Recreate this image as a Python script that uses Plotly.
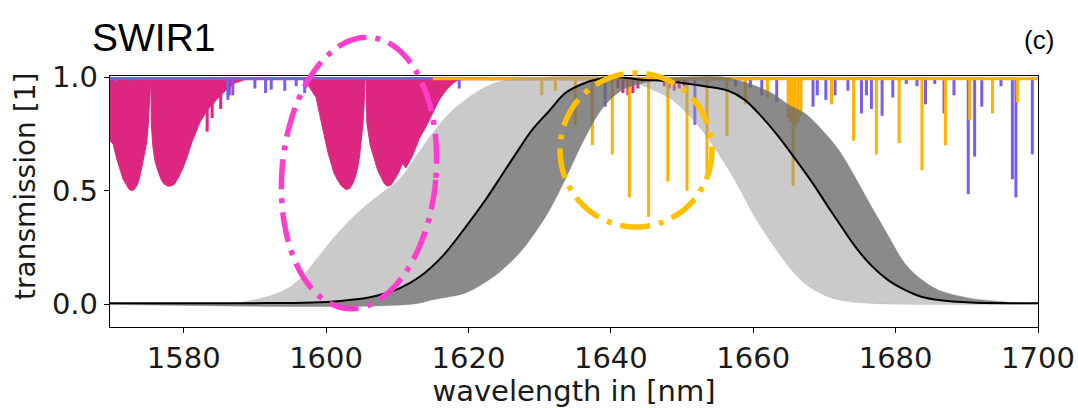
import math
import plotly.graph_objects as go

# ---------------- data ----------------
X_MIN, X_MAX = 1569.65, 1700.0
x_ticks = [1580, 1600, 1620, 1640, 1660, 1680, 1700]
y_ticks = [0.0, 0.5, 1.0]
y_ticktext = ["0.0", "0.5", "1.0"]

# CO2 (magenta) absorption envelope
co2_wl = [1569.65, 1570.1, 1570.6, 1571.05, 1571.5, 1571.99, 1572.35, 1572.69, 1573.05, 1573.39,
          1573.75, 1574.09, 1574.45, 1574.79, 1575.0, 1575.16, 1575.3,
          1575.4, 1575.45, 1575.65, 1575.94, 1576.4, 1576.88, 1577.3, 1577.8, 1578.3, 1578.74,
          1579.3, 1579.9, 1580.5, 1581.1, 1581.7, 1582.26, 1583.2,
          1584.6, 1586.0, 1587.3, 1588.8, 1597.0, 1597.67, 1598.6, 1599.07, 1599.77, 1600.25, 1600.71,
          1601.15, 1601.63, 1602.2, 1602.81, 1603.3, 1603.73, 1604.1, 1604.43, 1604.7, 1604.9,
          1605.2, 1605.37, 1605.5, 1605.65, 1605.72, 1606.2, 1606.78, 1607.25, 1607.72,
          1608.2, 1608.65, 1609.1, 1609.58, 1610.2, 1610.74, 1611.2, 1612.1, 1613.1, 1614.0,
          1614.95, 1615.9, 1616.8, 1617.7, 1618.4, 1620.0, 1660.0]
co2_tr = [0.72, 0.705, 0.64, 0.59, 0.55, 0.524, 0.505, 0.50, 0.505, 0.52,
          0.55, 0.60, 0.65, 0.71, 0.78, 0.88, 1.0,
          1.0, 0.80, 0.70, 0.634, 0.585, 0.546, 0.528, 0.52, 0.522, 0.53,
          0.56, 0.60, 0.65, 0.71, 0.76, 0.80, 0.85,
          0.90, 0.945, 0.975, 0.992, 0.992, 0.955, 0.91, 0.84, 0.73, 0.67, 0.62,
          0.575, 0.546, 0.52, 0.505, 0.51, 0.53, 0.56, 0.60, 0.65, 0.71,
          0.80, 0.90, 1.0, 1.0, 0.80, 0.70, 0.634, 0.59, 0.56,
          0.53, 0.52, 0.525, 0.546, 0.58, 0.62, 0.60, 0.65, 0.73, 0.78,
          0.84, 0.90, 0.94, 0.97, 0.985, 0.993, 0.993]
# extra CO2 individual lines
co2_line_wl = [1583.3, 1584.0, 1585.2, 1586.4, 1641.0, 1641.7, 1642.4, 1643.1, 1643.8,
               1647.5, 1648.2, 1648.9, 1649.6, 1650.3]
co2_line_tr = [0.76, 0.82, 0.86, 0.92, 0.95, 0.93, 0.92, 0.93, 0.95,
               0.96, 0.95, 0.94, 0.95, 0.96]

# H2O (purple) lines
h2o_wl = [1570.5, 1572.3, 1586.2, 1586.9, 1590.0, 1591.5, 1592.3, 1594.2, 1595.8, 1597.0,
          1618.7, 1639.2, 1651.8, 1657.5, 1659.6, 1661.2, 1663.3, 1668.4, 1669.0, 1670.2,
          1671.5, 1673.3, 1675.2, 1675.9, 1676.6, 1678.1, 1679.6, 1681.5, 1683.0, 1684.2,
          1685.5, 1686.8, 1688.2, 1690.2, 1691.1, 1692.1, 1694.8, 1696.4, 1696.9, 1699.2]
h2o_tr = [0.98, 0.985, 0.90, 0.92, 0.95, 0.93, 0.945, 0.94, 0.96, 0.93,
          0.95, 0.87, 0.79, 0.96, 0.955, 0.92, 0.89, 0.87, 0.92, 0.90,
          0.92, 0.94, 0.84, 0.92, 0.86, 0.83, 0.91, 0.97, 0.96, 0.88,
          0.97, 0.84, 0.92, 0.485, 0.65, 0.87, 0.96, 0.55, 0.47, 0.66]

# CH4 (gold) lines
ch4_wl = [1623.2, 1630.3, 1632.2, 1635.0, 1637.4, 1640.2, 1642.6, 1645.3, 1648.0, 1650.7,
          1653.5, 1656.3, 1658.9, 1662.0, 1664.9, 1665.2, 1665.6, 1665.9, 1666.3, 1666.7,
          1671.0, 1674.1, 1677.3, 1680.5, 1683.7, 1687.0, 1690.4, 1693.6, 1697.1]
ch4_tr = [0.985, 0.92, 0.94, 0.79, 0.70, 0.66, 0.47, 0.385, 0.54, 0.50,
          0.575, 0.74, 0.88, 0.91, 0.82, 0.80, 0.52, 0.78, 0.80, 0.83,
          0.88, 0.72, 0.66, 0.71, 0.59, 0.70, 0.81, 0.84, 0.89]

# near-unity continuum bands
cont_h2o_wl = [1569.65, 1700.0]
cont_co2_wl = [1569.65, 1660.0]
cont_ch4_wl = [1615.0, 1700.0]
cont_level = 0.993

# filter transmission curves: nominal (black), leftmost and rightmost shifted variants
nom_wl = [1569.65, 1590, 1598, 1602, 1606, 1608, 1610.3, 1613.1, 1616.3, 1619.6,
          1622.4, 1624.3, 1626.6, 1629.0, 1631.3, 1633.6, 1636.0, 1638.8, 1641.0, 1644.0,
          1648.6, 1653.2, 1656.5, 1658.8, 1661.2, 1663.5, 1665.9, 1668.2, 1670.5, 1672.0,
          1674.3, 1676.6, 1679.0, 1681.3, 1683.6, 1686.0, 1690.6, 1700.0]
nom_tr = [0.005, 0.005, 0.008, 0.015, 0.03, 0.045, 0.07, 0.12, 0.21, 0.34,
          0.46, 0.55, 0.66, 0.77, 0.85, 0.93, 0.97, 0.995, 1.0, 0.99,
          0.98, 0.96, 0.94, 0.90, 0.825, 0.74, 0.64, 0.54, 0.43, 0.36,
          0.255, 0.17, 0.105, 0.063, 0.033, 0.019, 0.008, 0.005]

left_wl = [1569.65, 1586, 1590, 1594, 1596.3, 1598.7, 1601, 1604, 1607, 1610.3,
           1612.6, 1614.9, 1617.3, 1619.6, 1622, 1624.3, 1627, 1630, 1641, 1643.9,
           1646.2, 1648.6, 1651, 1653.2, 1656, 1657.9, 1660.3, 1662.6, 1664.9, 1667.3,
           1670, 1672, 1676, 1700]
left_tr = [0.0, 0.003, 0.02, 0.06, 0.11, 0.20, 0.29, 0.39, 0.47, 0.55,
           0.65, 0.75, 0.84, 0.90, 0.95, 0.98, 0.995, 1.0, 1.0, 0.97,
           0.94, 0.90, 0.83, 0.75, 0.62, 0.52, 0.38, 0.27, 0.17, 0.09,
           0.04, 0.02, 0.005, 0.0]

right_wl = [1569.65, 1612, 1615, 1619.6, 1622, 1624.3, 1627, 1629, 1631.3, 1633.6,
            1636, 1638.3, 1640.2, 1642, 1644, 1646, 1648, 1650, 1656, 1658,
            1660, 1662.6, 1664.9, 1667.3, 1669.6, 1672, 1674.3, 1676.6, 1679, 1681.3,
            1683.6, 1686, 1690.6, 1694.8, 1697, 1700]
right_tr = [0.0, 0.0, 0.02, 0.05, 0.09, 0.14, 0.22, 0.30, 0.41, 0.55,
            0.71, 0.84, 0.91, 0.95, 0.97, 0.985, 0.995, 1.0, 1.0, 0.985,
            0.965, 0.93, 0.88, 0.84, 0.77, 0.68, 0.56, 0.43, 0.30, 0.18,
            0.11, 0.063, 0.026, 0.012, 0.006, 0.005]

# ---------------- styling ----------------
C_CO2 = "#DC267F"
C_H2O = "#785EF0"
C_CH4 = "#FFB000"
FONT = "DejaVu Sans"
TXT = "#1a1a1a"


def stems(wl, tr):
    xs, ys = [], []
    for w, t in zip(wl, tr):
        xs += [w, w, None]
        ys += [1.0, t, None]
    return xs, ys


fig = go.Figure()

# CO2 filled envelope
fig.add_trace(go.Scatter(x=[X_MIN, X_MAX], y=[1.0, 1.0], mode="lines",
                         line=dict(width=0, color=C_CO2), showlegend=False, hoverinfo="skip"))
fig.add_trace(go.Scatter(x=co2_wl, y=co2_tr, mode="lines", fill="tonexty",
                         fillcolor=C_CO2, line=dict(width=1, color=C_CO2), showlegend=False))
xs, ys = stems(co2_line_wl, co2_line_tr)
fig.add_trace(go.Scatter(x=xs, y=ys, mode="lines", line=dict(width=3, color=C_CO2), showlegend=False))
fig.add_trace(go.Scatter(x=cont_co2_wl, y=[cont_level] * 2, mode="lines",
                         line=dict(width=3, color=C_CO2), showlegend=False))

# H2O lines
xs, ys = stems(h2o_wl, h2o_tr)
fig.add_trace(go.Scatter(x=xs, y=ys, mode="lines", line=dict(width=3, color=C_H2O), showlegend=False))
fig.add_trace(go.Scatter(x=cont_h2o_wl, y=[cont_level] * 2, mode="lines",
                         line=dict(width=2, color=C_H2O), showlegend=False))

# CH4 lines
xs, ys = stems(ch4_wl, ch4_tr)
fig.add_trace(go.Scatter(x=xs, y=ys, mode="lines", line=dict(width=3, color=C_CH4), showlegend=False))
fig.add_trace(go.Scatter(x=cont_ch4_wl, y=[cont_level] * 2, mode="lines",
                         line=dict(width=3, color=C_CH4), showlegend=False))

# filter curve family as shaded bands
fig.add_trace(go.Scatter(x=left_wl, y=left_tr, mode="lines", line_shape="spline",
                         line=dict(width=0.5, color="rgba(170,170,170,0.6)"), showlegend=False))
fig.add_trace(go.Scatter(x=nom_wl, y=nom_tr, mode="lines", fill="tonexty", line_shape="spline",
                         fillcolor="rgba(150,150,150,0.5)", line=dict(width=0), showlegend=False))
fig.add_trace(go.Scatter(x=right_wl, y=right_tr, mode="lines", fill="tonexty", line_shape="spline",
                         fillcolor="rgba(105,105,105,0.78)",
                         line=dict(width=0.5, color="rgba(125,125,125,0.8)"), showlegend=False))
# nominal curve
fig.add_trace(go.Scatter(x=nom_wl, y=nom_tr, mode="lines", line=dict(width=2, color="black"),
                         line_shape="spline", showlegend=False))

L, R, T, B = 110, 40, 76, 81
W, H = 1078, 408
pw, ph = W - L - R, H - T - B


def px2paper(x, y):
    return (x - L) / pw, (H - B - y) / ph


def ellipse_path(cx, cy, a, b, tilt_deg, n=120):
    th = math.radians(tilt_deg)
    pts = []
    for k in range(n + 1):
        t = 2 * math.pi * k / n
        ex, ey = a * math.cos(t), b * math.sin(t)
        px = cx + ex * math.cos(th) - ey * math.sin(th)
        py = cy + ex * math.sin(th) + ey * math.cos(th)
        u, v = px2paper(px, py)
        pts.append(f"{u:.5f},{v:.5f}")
    return "M" + " L".join(pts) + " Z"


dash = "30px,9px,5px,9px"
fig.add_shape(type="path", xref="paper", yref="paper",
              path=ellipse_path(359, 173, 77, 136, 5),
              line=dict(color="#FF3DCC", width=5.5, dash=dash), layer="above")
fig.add_shape(type="path", xref="paper", yref="paper",
              path=ellipse_path(636, 150, 76, 77, 0),
              line=dict(color="#FFC000", width=5.5, dash=dash), layer="above")

ax_common = dict(showline=True, mirror=True, linecolor="black", linewidth=1.3,
                 ticks="outside", ticklen=5, tickwidth=1.3, tickcolor="black",
                 showgrid=False, zeroline=False, automargin=False,
                 tickfont=dict(family=FONT, size=29, color=TXT))

fig.update_layout(
    width=W, height=H, margin=dict(l=L, r=R, t=T, b=B, autoexpand=False),
    paper_bgcolor="white", plot_bgcolor="white",
    xaxis=dict(range=[X_MIN, X_MAX], tickvals=x_ticks, **ax_common,
               title=dict(text="wavelength in [nm]", font=dict(family=FONT, size=29, color=TXT),
                          standoff=4)),
    yaxis=dict(range=[-0.1, 1.005], tickvals=y_ticks, ticktext=y_ticktext, **ax_common),
    annotations=[
        dict(text="transmission [1]", textangle=-90, xref="paper", yref="paper",
             x=px2paper(25, 0)[0], y=px2paper(0, 187)[1], xanchor="center", yanchor="middle",
             showarrow=False, font=dict(family=FONT, size=28, color=TXT)),
        dict(text="SWIR1", xref="paper", yref="paper", x=px2paper(90, 0)[0], y=px2paper(0, 38)[1],
             xanchor="left", yanchor="middle", showarrow=False,
             font=dict(family="Liberation Sans", size=39, color="black")),
        dict(text="(c)", xref="paper", yref="paper", x=px2paper(1039, 0)[0], y=px2paper(0, 40)[1],
             xanchor="center", yanchor="middle", showarrow=False,
             font=dict(family="Liberation Sans", size=26, color="black")),
    ],
)

fig.write_html("out.html")
